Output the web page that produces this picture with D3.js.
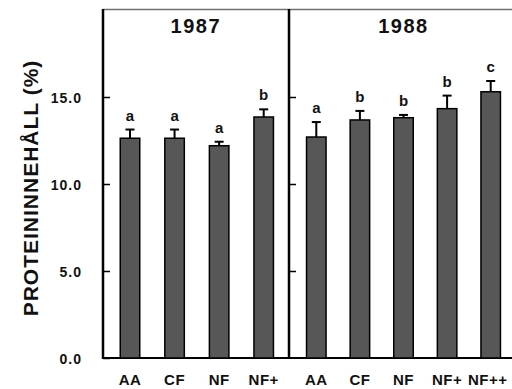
<!DOCTYPE html>
<html>
<head>
<meta charset="utf-8">
<script src="https://cdn.jsdelivr.net/npm/d3@7/dist/d3.min.js"></script>
<style>
  body { margin: 0; background: #fff; }
  svg { display: block; }
  text { font-family: "Liberation Sans", Arial, sans-serif; font-weight: bold; fill: #111; }
</style>
</head>
<body>
<svg id="chart" width="512" height="389"></svg>
<script>
// ---- data ----
const years = ["1987", "1988"];
const categories1987 = ["AA", "CF", "NF", "NF+"];
const values1987 = [12.63, 12.63, 12.2, 13.85];
const errors1987 = [0.5, 0.5, 0.23, 0.44];
const letters1987 = ["a", "a", "a", "b"];
const categories1988 = ["AA", "CF", "NF", "NF+", "NF++"];
const values1988 = [12.7, 13.68, 13.81, 14.33, 15.3];
const errors1988 = [0.86, 0.52, 0.16, 0.75, 0.62];
const letters1988 = ["a", "b", "b", "b", "c"];
const yTicks = [0, 5, 10, 15];
const yTitle = "PROTEININNEHÅLL (%)";

// ---- layout ----
const svg = d3.select("#chart");
const plotTop = 10, plotBottom = 358;
const p1Left = 103, p2Left = 289, rightEdge = 512;
const barW = 19.5;

const y = d3.scaleLinear().domain([0, 20]).range([plotBottom, plotTop]);

const panels = [
  { year: years[0], cats: categories1987, vals: values1987, errs: errors1987, lets: letters1987,
    x: d3.scalePoint().domain(categories1987).range([130, 263.7]), left: p1Left, showLabels: true },
  { year: years[1], cats: categories1988, vals: values1988, errs: errors1988, lets: letters1988,
    x: d3.scalePoint().domain(categories1988).range([316.3, 490.7]), left: p2Left, showLabels: false }
];

svg.append("line").attr("x1", p1Left).attr("x2", rightEdge).attr("y1", plotTop - 0.5).attr("y2", plotTop - 0.5)
  .attr("stroke", "#6f6f6f").attr("stroke-width", 1.4);
svg.append("line").attr("x1", p1Left - 1).attr("x2", rightEdge).attr("y1", plotBottom).attr("y2", plotBottom)
  .attr("stroke", "#000").attr("stroke-width", 2);

panels.forEach((p, pi) => {
  const axis = d3.axisLeft(y).tickValues(pi === 0 ? yTicks : yTicks.slice(1))
    .tickSize(-7).tickPadding(21).tickFormat(d3.format(".1f"));
  const g = svg.append("g").attr("transform", `translate(${p.left},0)`).call(axis)
    .attr("font-size", 14).attr("font-family", null);
  g.select(".domain").remove();
  g.selectAll(".tick line").attr("stroke", "#000").attr("stroke-width", 1.5);
  g.selectAll(".tick text").style("font-size", "14px").style("letter-spacing", "1px")
    .attr("dy", "0.4em").attr("fill", "#111")
    .attr("display", p.showLabels ? null : "none");
  svg.append("line").attr("x1", p.left).attr("x2", p.left).attr("y1", plotTop - 1).attr("y2", plotBottom + 1)
    .attr("stroke", "#000").attr("stroke-width", 2.5);

  svg.append("g").selectAll("rect").data(p.cats).join("rect")
    .attr("x", d => p.x(d) - barW / 2)
    .attr("y", (d, i) => y(p.vals[i]))
    .attr("width", barW)
    .attr("height", (d, i) => y(0) - y(p.vals[i]))
    .attr("fill", "#575757").attr("stroke", "#000").attr("stroke-width", 1.5);

  const eg = svg.append("g").attr("stroke", "#000").attr("stroke-width", 2);
  p.cats.forEach((c, i) => {
    const cx = p.x(c);
    const yt = y(p.vals[i] + p.errs[i]);
    eg.append("line").attr("x1", cx).attr("x2", cx).attr("y1", y(p.vals[i])).attr("y2", yt);
    eg.append("line").attr("x1", cx - 4.5).attr("x2", cx + 4.5).attr("y1", yt).attr("y2", yt);
    svg.append("text").attr("x", cx).attr("y", yt - 9)
      .attr("text-anchor", "middle").style("font-size", "15px").text(p.lets[i]);
    svg.append("text").attr("x", cx).attr("y", 385)
      .attr("dx", c === "NF++" ? -3 : 0)
      .attr("text-anchor", "middle").style("font-size", "15px").style("letter-spacing", "0.5px").text(c);
  });

  svg.append("text").attr("x", (p.x.range()[0] + p.x.range()[1]) / 2 + (pi === 0 ? -1 : 0))
    .attr("y", 33).attr("text-anchor", "middle").style("font-size", "20px").style("letter-spacing", "1.5px").text(p.year);
});

svg.append("text").attr("transform", "translate(38,188) rotate(-90)")
  .attr("text-anchor", "middle").style("font-size", "21px").style("letter-spacing", "1px").text(yTitle);
</script>
</body>
</html>
